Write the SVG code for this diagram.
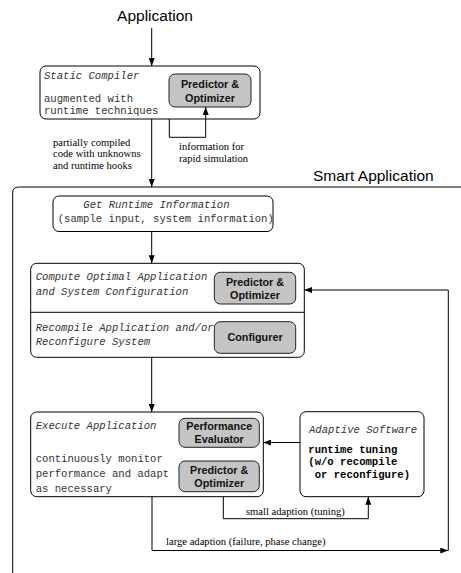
<svg xmlns="http://www.w3.org/2000/svg" width="461" height="573" viewBox="0 0 461 573">
<style>
.box{fill:#fff;stroke:#000;stroke-width:1}
.gbox{fill:#c4c4c4;stroke:#222;stroke-width:1}
.mono{font-family:"Liberation Mono",monospace;font-size:10.6px;fill:#333}
.it{font-style:italic}
.bm{font-family:"Liberation Mono",monospace;font-size:10.6px;font-weight:bold;fill:#000}
.bs{font-family:"Liberation Sans",Arial,sans-serif;font-size:10.8px;font-weight:bold;fill:#111;text-anchor:middle}
.ser{font-family:"Liberation Serif","Times New Roman",serif;font-size:10.6px;fill:#000}
.title{font-family:"Liberation Sans",Arial,sans-serif;font-size:15.5px;fill:#000}
.ln{fill:none;stroke:#000;stroke-width:1}
.arr{fill:none;stroke:#000;stroke-width:1;marker-end:url(#ah)}
</style>
<defs>
<marker id="ah" markerUnits="userSpaceOnUse" markerWidth="8" markerHeight="6" refX="8" refY="3" orient="auto">
<path d="M0,0 L8,3 L0,6 z" fill="#000"/>
</marker>
</defs>
<rect width="461" height="573" fill="#fff"/>

<g id="labels">
<text class="title" x="155" y="21" text-anchor="middle">Application</text>
<text class="title" x="313" y="181">Smart Application</text>
<text class="ser" x="53" y="145.5">partially compiled</text>
<text class="ser" x="53" y="157">code with unknowns</text>
<text class="ser" x="53" y="168.5">and runtime hooks</text>
<text class="ser" x="179" y="150">information for</text>
<text class="ser" x="179" y="162">rapid simulation</text>
<text class="ser" x="246" y="515">small adaption (tuning)</text>
<text class="ser" x="166" y="545">large adaption (failure, phase change)</text>
</g>

<g id="smart-frame">
<path class="ln" d="M12.7,575 V193 Q12.7,187 18.7,187 H463"/>
</g>

<g id="static-compiler">
<rect class="box" x="40" y="66" width="220" height="53" rx="6"/>
<text class="mono it" x="44" y="79">Static Compiler</text>
<text class="mono" x="44" y="101.5">augmented with</text>
<text class="mono" x="44" y="114">runtime techniques</text>
</g>
<g id="po1">
<rect class="gbox" x="169" y="74" width="82" height="33" rx="6"/>
<text class="bs" x="210" y="88">Predictor &amp;</text>
<text class="bs" x="210" y="101.5">Optimizer</text>
</g>

<g id="get-runtime">
<rect class="box" x="53" y="196" width="220" height="35.5" rx="6"/>
<text class="mono it" x="83.3" y="208.3">Get Runtime Information</text>
<text class="mono" x="57.7" y="222.3">(sample input, system information)</text>
</g>

<g id="compute">
<rect class="box" x="30.7" y="263.3" width="273.6" height="94" rx="6"/>
<line class="ln" x1="30.7" y1="312.3" x2="304.3" y2="312.3"/>
<text class="mono it" x="35.7" y="280">Compute Optimal Application</text>
<text class="mono it" x="35.7" y="295">and System Configuration</text>
<text class="mono it" x="35.7" y="331">Recompile Application and/or</text>
<text class="mono it" x="35.7" y="344.5">Reconfigure System</text>
</g>
<g id="po2">
<rect class="gbox" x="214.3" y="272.3" width="81.4" height="31.7" rx="6"/>
<text class="bs" x="255" y="285.7">Predictor &amp;</text>
<text class="bs" x="255" y="299">Optimizer</text>
</g>
<g id="configurer">
<rect class="gbox" x="214.3" y="321.7" width="81.4" height="31.6" rx="6"/>
<text class="bs" x="255" y="341">Configurer</text>
</g>

<g id="execute">
<rect class="box" x="30.7" y="412" width="232.6" height="84.7" rx="6"/>
<text class="mono it" x="35.7" y="428.5">Execute Application</text>
<text class="mono" x="35.7" y="462">continuously monitor</text>
<text class="mono" x="35.7" y="477">performance and adapt</text>
<text class="mono" x="35.7" y="491.5">as necessary</text>
</g>
<g id="perf-eval">
<rect class="gbox" x="179" y="418.3" width="80.3" height="29" rx="6"/>
<text class="bs" x="219.2" y="430">Performance</text>
<text class="bs" x="219.2" y="443">Evaluator</text>
</g>
<g id="po3">
<rect class="gbox" x="179" y="461" width="80.3" height="30.7" rx="6"/>
<text class="bs" x="219.2" y="473.5">Predictor &amp;</text>
<text class="bs" x="219.2" y="486.5">Optimizer</text>
</g>

<g id="adaptive">
<rect class="box" x="300" y="411.7" width="124" height="85" rx="6"/>
<text class="mono it" x="309" y="433.3">Adaptive Software</text>
<text class="bm" x="308.3" y="452.7">runtime tuning</text>
<text class="bm" x="308.3" y="465">(w/o recompile</text>
<text class="bm" x="308.3" y="477.7" xml:space="preserve"> or reconfigure)</text>
</g>

<g id="connectors">
<path class="arr" d="M151.7,28 V66"/>
<path class="arr" d="M151.7,119 V187"/>
<path class="arr" d="M169.3,119 V137.3 H205.7 V107"/>
<path class="arr" d="M151.7,231.5 V263.3"/>
<path class="arr" d="M151.7,357.3 V412"/>
<path class="arr" d="M300,442.5 H263.3"/>
<path class="arr" d="M223.3,496.7 V518.7 H368.3 V496.7"/>
<path class="arr" d="M152,496.7 V550.5 H448.3"/>
<path class="arr" d="M448.3,550.5 V290 H304.3"/>
</g>
</svg>
